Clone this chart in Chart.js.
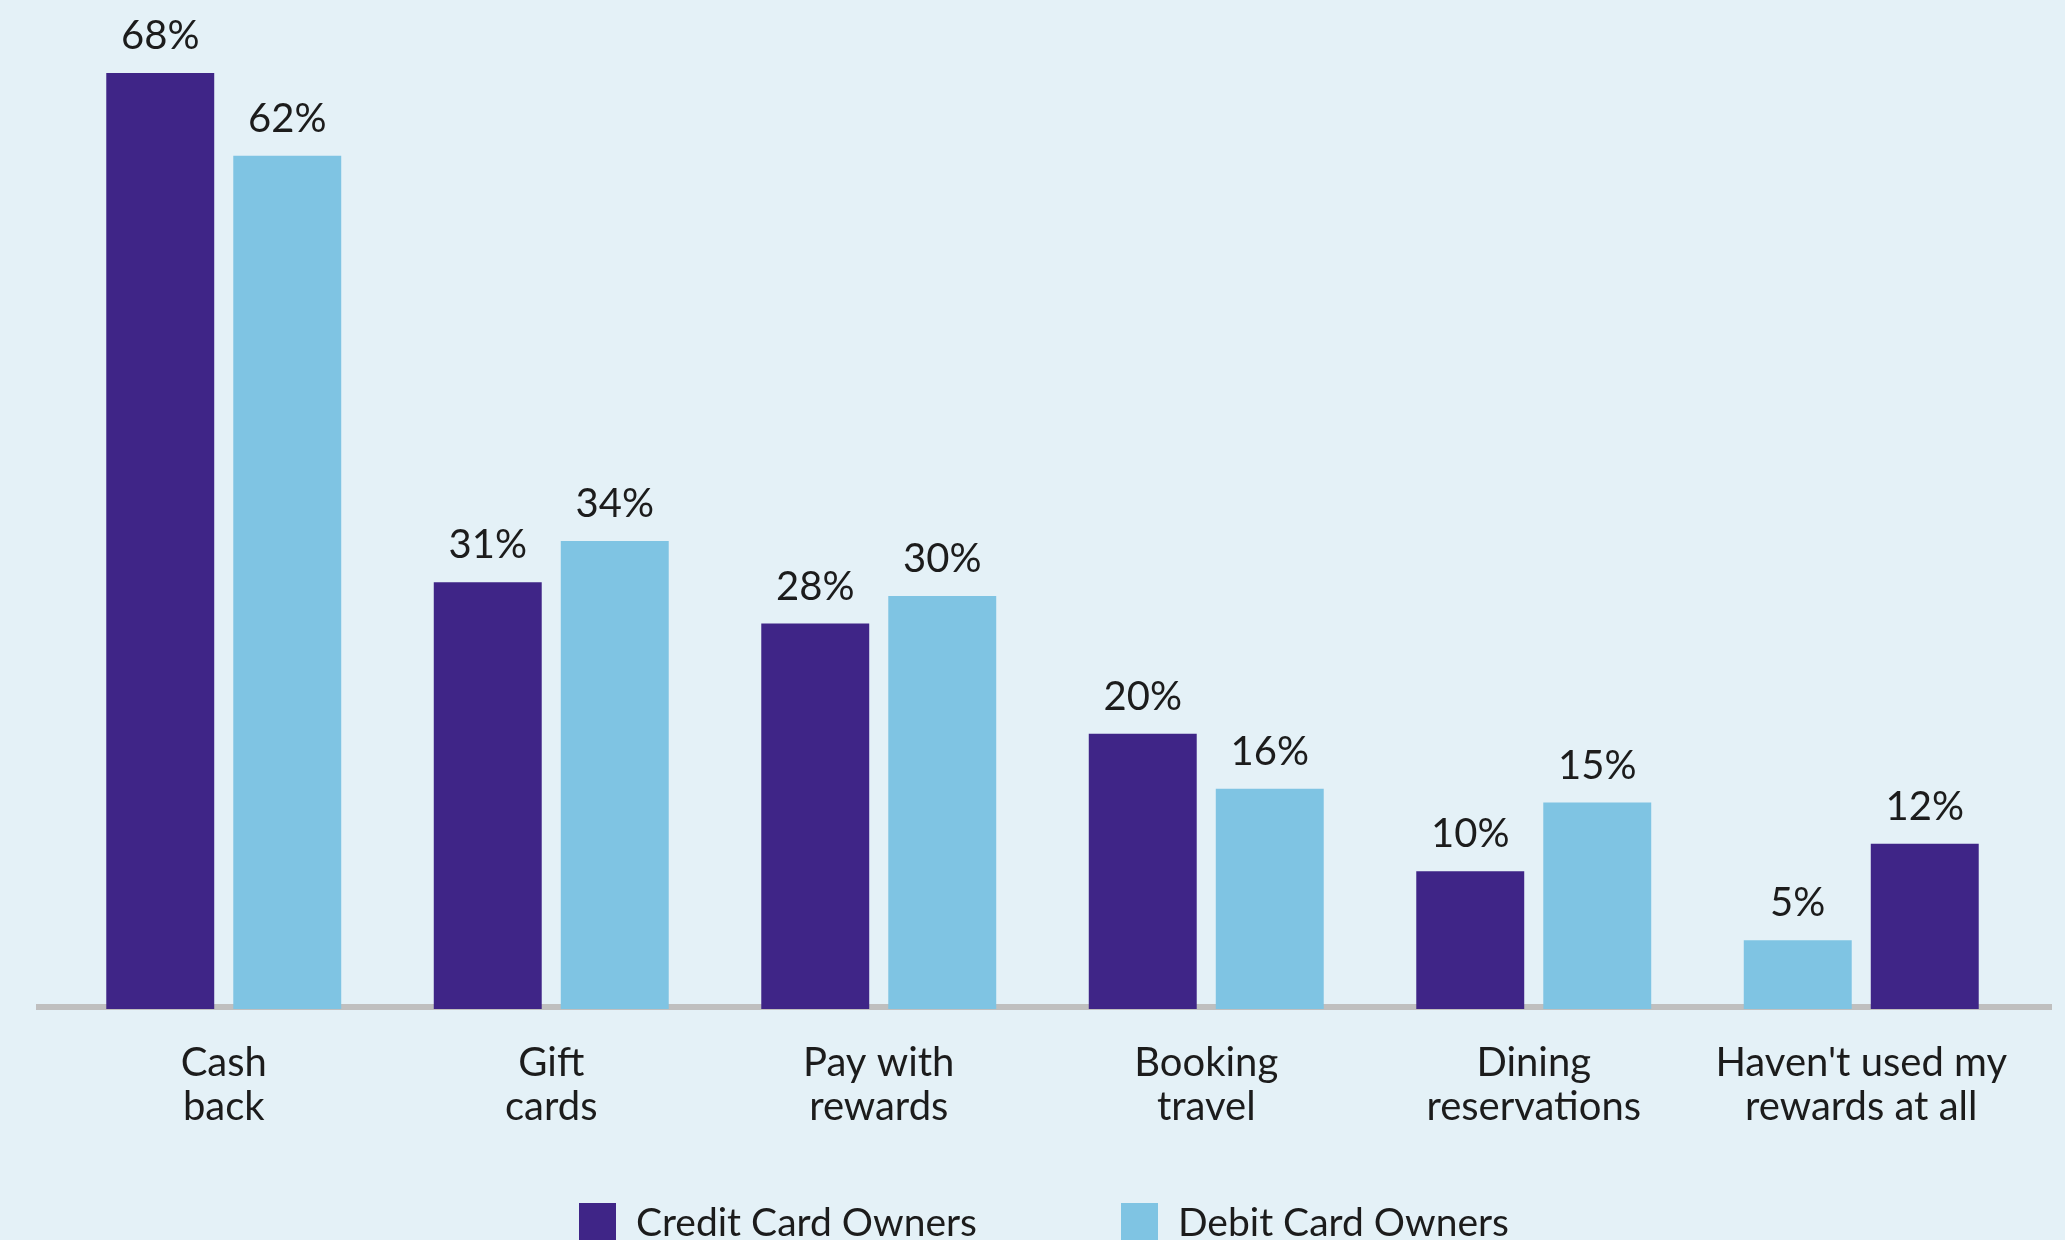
<!DOCTYPE html>
<html>
<head>
<meta charset="utf-8">
<script src="https://cdn.jsdelivr.net/npm/chart.js@4.4.1/dist/chart.umd.min.js"></script>
<style>
  html, body { margin: 0; padding: 0; background: #e4f1f7; overflow: hidden; }
  #wrap { position: relative; width: 2065px; height: 1240px; }
  #legend {
    position: absolute; left: 579px; top: 1203px;
    display: flex; font-family: Lato, sans-serif; font-size: 39px; color: #1c1c1c;
  }
  #legend .item { display: flex; align-items: flex-start; margin-right: 144px; line-height: 37px; }
  #legend .swatch { width: 37px; height: 37px; margin-right: 20px; }
</style>
</head>
<body>
<div id="wrap">
  <canvas id="chart" width="2065" height="1240"></canvas>
  <div id="legend"></div>
</div>
<script>
const categories = [
  ["Cash", "back"],
  ["Gift", "cards"],
  ["Pay with", "rewards"],
  ["Booking", "travel"],
  ["Dining", "reservations"],
  ["Haven't used my", "rewards at all"]
];
const seriesNames = ["Credit Card Owners", "Debit Card Owners"];
const creditValues = [68, 31, 28, 20, 10, 5];
const debitValues = [62, 34, 30, 16, 15, 12];

const DARK = "#3f2587";
const LIGHT = "#7fc4e3";

// last group has its colours swapped
const creditColors = [DARK, DARK, DARK, DARK, DARK, LIGHT];
const debitColors = [LIGHT, LIGHT, LIGHT, LIGHT, LIGHT, DARK];

const baseLine = {
  id: "baseLine",
  beforeDatasetsDraw(chart) {
    const ctx = chart.ctx;
    const y = chart.scales.y.getPixelForValue(0);
    ctx.save();
    ctx.fillStyle = "#bfbfbf";
    ctx.fillRect(36, y - 5, 2016, 6);
    ctx.restore();
  }
};

const valueLabels = {
  id: "valueLabels",
  afterDatasetsDraw(chart) {
    const ctx = chart.ctx;
    ctx.save();
    ctx.font = "40px Lato";
    ctx.fillStyle = "#1c1c1c";
    ctx.textAlign = "center";
    ctx.textBaseline = "alphabetic";
    chart.data.datasets.forEach((ds, i) => {
      chart.getDatasetMeta(i).data.forEach((bar, j) => {
        ctx.fillText(ds.data[j] + "%", bar.x, bar.y - 24);
      });
    });
    ctx.restore();
  }
};

new Chart(document.getElementById("chart"), {
  type: "bar",
  data: {
    labels: categories,
    datasets: [
      { label: seriesNames[0], data: creditValues, backgroundColor: creditColors },
      { label: seriesNames[1], data: debitValues, backgroundColor: debitColors }
    ]
  },
  options: {
    responsive: false,
    animation: false,
    categoryPercentage: 0.7756,
    barPercentage: 0.85,
    layout: { padding: { left: 60, right: 40, top: 18, bottom: 79 } },
    plugins: { legend: { display: false }, tooltip: { enabled: false } },
    scales: {
      x: {
        grid: { display: false, drawTicks: false },
        border: { display: false },
        ticks: {
          color: "#1c1c1c",
          padding: 32,
          font: { family: "Lato", size: 40, lineHeight: 1.1 },
          maxRotation: 0,
          autoSkip: false
        }
      },
      y: { display: false, min: 0, max: 72 }
    }
  },
  plugins: [baseLine, valueLabels]
});

const legend = document.getElementById("legend");
seriesNames.forEach((name, i) => {
  const item = document.createElement("div");
  item.className = "item";
  const sw = document.createElement("div");
  sw.className = "swatch";
  sw.style.background = i === 0 ? DARK : LIGHT;
  const txt = document.createElement("span");
  txt.textContent = name;
  item.appendChild(sw);
  item.appendChild(txt);
  legend.appendChild(item);
});
</script>
</body>
</html>
